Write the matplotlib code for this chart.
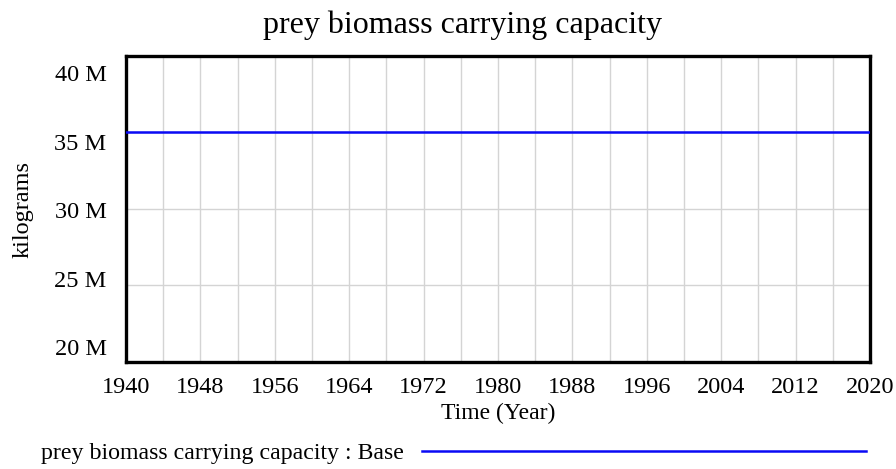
#!/usr/bin/env python3
import numpy as np
import matplotlib
matplotlib.use('Agg')
import matplotlib.pyplot as plt
import matplotlib.transforms as mtransforms

# data
years = [1940, 1948, 1956, 1964, 1972, 1980, 1988, 1996, 2004, 2012, 2020]
capacity = [35e6, 35e6, 35e6, 35e6, 35e6, 35e6, 35e6, 35e6, 35e6, 35e6, 35e6]
ytick_vals = [20e6, 25e6, 30e6, 35e6, 40e6]
ytick_labels = ['20 M', '25 M', '30 M', '35 M', '40 M']
xtick_vals = [1940, 1948, 1956, 1964, 1972, 1980, 1988, 1996, 2004, 2012, 2020]
series_name = 'prey biomass carrying capacity : Base'

plt.rcParams['font.family'] = ['Liberation Serif', 'DejaVu Serif']
W, H = 896, 469
fig = plt.figure(figsize=(W / 100, H / 100), dpi=100)
ax = fig.add_axes([126 / W, 1 - 362 / H, (870 - 126) / W, (362 - 56) / H])

line, = ax.plot(years, capacity, color='#0a0af5', lw=1.8, label=series_name, zorder=3)

ax.set_xlim(1940, 2020)
ax.set_ylim(20e6, 40e6)
ax.set_xticks(np.arange(1940, 2021, 4), minor=True)
ax.set_xticks(xtick_vals)
ax.set_xticklabels([str(y) for y in xtick_vals])
ax.set_yticks(ytick_vals)
ax.set_yticklabels(ytick_labels)
ax.grid(True, which='both', color='#d4d4d4', lw=1.0, zorder=0)
ax.tick_params(which='both', length=0, labelsize=17.5)
ax.tick_params(axis='x', pad=11)
ax.tick_params(axis='y', pad=14)
for s in ax.spines.values():
    s.set_linewidth(2.4)
    s.set_color('black')

# vensim pulls the outer y labels inward
offsets = [-15, -7, 1, 9, 17]
for lab, dy in zip(ax.get_yticklabels(), offsets):
    lab.set_transform(lab.get_transform() +
                      mtransforms.ScaledTranslation(0, -dy / 100, fig.dpi_scale_trans))

fig.text(462 / W, 1 - 25 / H, 'prey biomass carrying capacity', ha='center', va='center', fontsize=23)
fig.text(23 / W, 1 - 209 / H, 'kilograms', rotation=90, ha='center', va='center', fontsize=17.5)
fig.text(498 / W, 1 - 413 / H, 'Time (Year)', ha='center', va='center', fontsize=17)

fig.legend(handles=[line], loc='center left', bbox_to_anchor=(41 / W, 1 - 453 / H),
           frameon=False, markerfirst=False, fontsize=17.2, handlelength=18.6,
           handletextpad=0.75, borderpad=0, borderaxespad=0)

fig.savefig('out.png', dpi=100)
